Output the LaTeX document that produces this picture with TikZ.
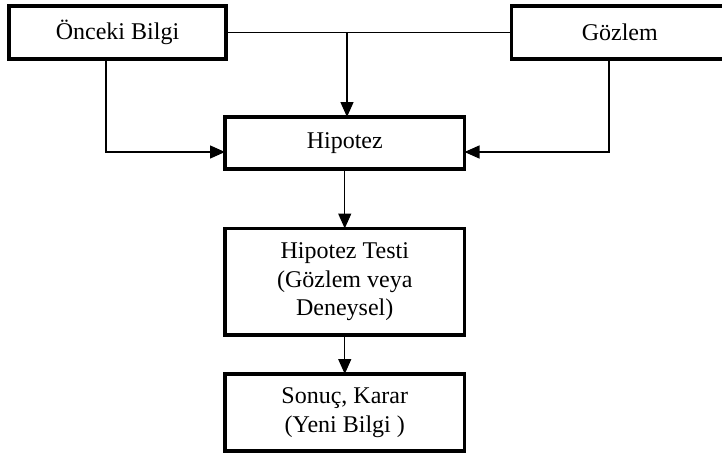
\documentclass[tikz,border=0pt]{standalone}
\usepackage{fontspec}
\setmainfont{Liberation Serif}
\usetikzlibrary{arrows.meta}
\begin{document}
\begin{tikzpicture}[x=1pt,y=-1pt,
  box/.style={draw=black,line width=3.5pt,inner sep=0pt,outer sep=0pt,align=center,
    font=\fontsize{24}{28.5}\selectfont},
  conn/.style={line width=1.4pt},
  arr/.style={conn,-{Triangle[length=15pt,width=13pt]}}]
\useasboundingbox (0,0) rectangle (722,455);
\node[box,minimum width=217pt,minimum height=53pt] (onc) at (117.5,32.5) {Önceki Bilgi};
\node[box,minimum width=216.5pt,minimum height=53pt] (goz) at (619.75,32.5) {Gözlem};
\node[box,minimum width=239.5pt,minimum height=52pt] (hyp) at (344.75,143) {Hipotez};
\node[box,minimum width=239.5pt,minimum height=106.5pt] (tst) at (344.75,281.75) {Hipotez Testi\\(Gözlem veya\\Deneysel)};
\node[box,minimum width=239.5pt,minimum height=77pt] (son) at (344.75,412.5) {Sonuç, Karar\\(Yeni Bilgi )};
\coordinate (j) at (347,32.5);
\coordinate (lc) at (106,152);
\coordinate (rc) at (609,152);
\draw[conn] (onc.east) -- (goz.west);
\draw[arr] (j) -- (j |- hyp.north);
\draw[arr] (onc.south -| lc) -- (lc) -- (lc -| hyp.west);
\draw[arr] (goz.south -| rc) -- (rc) -- (rc -| hyp.east);
\draw[arr] (hyp.south) -- (tst.north);
\draw[arr] (tst.south) -- (son.north);
\end{tikzpicture}
\end{document}
